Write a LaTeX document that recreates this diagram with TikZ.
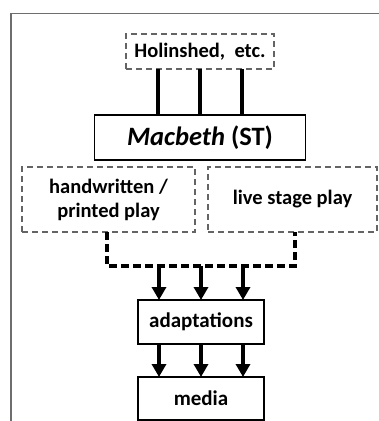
\documentclass[tikz,border=0pt]{standalone}
\usepackage{fontspec}
\setmainfont{Carlito}
\usetikzlibrary{positioning,arrows.meta}

\definecolor{framegray}{RGB}{110,110,110}
\definecolor{dashgray}{RGB}{100,100,100}

\tikzset{
  solidbox/.style={draw=black, line width=1.1pt, inner sep=0pt, outer sep=0pt,
    font=\fontsize{21}{25}\selectfont\bfseries, align=center},
  dashbox/.style={draw=dashgray, line width=1.1pt, dash pattern=on 6pt off 4pt,
    inner sep=0pt, outer sep=0pt, font=\fontsize{20.5}{24}\selectfont\bfseries, align=center},
  thickline/.style={line width=4pt},
  dashconn/.style={line width=3.5pt, dash pattern=on 8pt off 4pt},
  arrline/.style={line width=4pt, -{Triangle[length=13pt,width=14pt]}}
}

\begin{document}
\begin{tikzpicture}[x=1pt, y=-1pt]
    \useasboundingbox (0,0) rectangle (379,421);
    \draw[framegray, line width=1.4pt] (11,421) |- (379,13.5);
    \node[solidbox, minimum width=211pt, minimum height=45pt,
      font=\fontsize{26.5}{30}\selectfont\bfseries] (mac) at (200,137.5) {\textit{Macbeth} (ST)};
    \node[dashbox, minimum width=148pt, minimum height=35pt] (hol) [above=46pt of mac] {Holinshed,\ \ etc.};
    \node[dashbox, minimum width=173pt, minimum height=65pt] (hand) at (108.5,199.5) {handwritten /\\printed play};
    \node[dashbox, minimum width=169pt, minimum height=65pt] (live) at (292.5,199.5) {live stage play};
    \node[solidbox, minimum width=126pt, minimum height=44pt] (adapt) at (201,322) {adaptations};
    \node[solidbox, minimum width=126pt, minimum height=43pt] (media) [below=33pt of adapt] {media};
    \coordinate (join) at (201,266);
    % sources into the play
    \foreach \dx in {-42,0,42}
      \draw[thickline] ([xshift=\dx pt]hol.south) -- ([xshift=\dx pt]hol.south |- mac.north);
    % both forms meet below
    \draw[dashconn] (hand.south -| 107,0) -- (107,266) -- (295,266) -- (live.south -| 295,0);
    \foreach \dx in {-42,0,42} {
      \draw[arrline] ([xshift=\dx pt]join) -- ([xshift=\dx pt]adapt.north);
      \draw[arrline] ([xshift=\dx pt]adapt.south) -- ([xshift=\dx pt]media.north);
    }
\end{tikzpicture}
\end{document}
